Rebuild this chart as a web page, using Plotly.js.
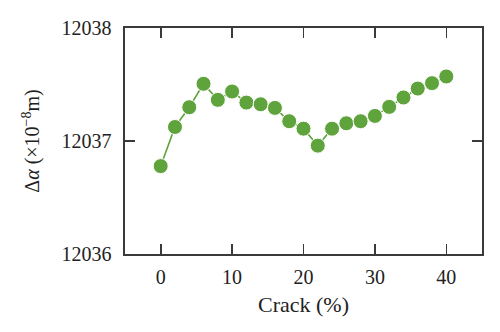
<!DOCTYPE html>
<html>
<head>
<meta charset="utf-8">
<script src="https://cdn.plot.ly/plotly-3.0.1.min.js"></script>
<style>html,body{margin:0;padding:0;background:#fff;}#chart{width:500px;height:332px;}</style>
</head>
<body>
<div id="chart"></div>
<script>
const crack = [0, 2, 4, 6, 8, 10, 12, 14, 16, 18, 20, 22, 24, 26, 28, 30, 32, 34, 36, 38, 40];
const deltaAlpha = [12036.778, 12037.124, 12037.299, 12037.506, 12037.364, 12037.438, 12037.340, 12037.325, 12037.293, 12037.175, 12037.109, 12036.959, 12037.109, 12037.157, 12037.175, 12037.222, 12037.302, 12037.385, 12037.464, 12037.512, 12037.571];
const xTicks = [0, 10, 20, 30, 40];
const yTicks = [12036, 12037, 12038];

const green = '#5fa33c';
const axisColor = '#3a3a3a';
const fam = '"Liberation Serif", "DejaVu Serif", serif';
const font = {family: fam, size: 20, color: '#222'};
const titleFont = {family: fam, size: 22, color: '#222'};

const trace = {
  x: crack, y: deltaAlpha, type: 'scatter', mode: 'lines+markers',
  line: {color: green, width: 1.6},
  marker: {color: green, size: 15, line: {color: '#ffffff', width: 1}},
  hoverinfo: 'skip'
};

const axisCommon = {
  showline: true, linecolor: axisColor, linewidth: 1.6, mirror: 'ticks',
  ticks: 'inside', ticklen: 10, tickwidth: 1.6, tickcolor: axisColor,
  showgrid: false, zeroline: false, tickfont: font
};

const layout = {
  width: 500, height: 332,
  margin: {l: 125, r: 18, t: 28, b: 78},
  paper_bgcolor: '#fff', plot_bgcolor: '#fff',
  showlegend: false,
  font: font,
  xaxis: Object.assign({}, axisCommon, {
    range: [-5, 45], tickvals: xTicks, ticktext: xTicks.map(String),
    ticklabelstandoff: 4,
    title: {text: 'Crack (%)', font: titleFont, standoff: 10}
  }),
  yaxis: Object.assign({}, axisCommon, {
    range: [12036, 12038], tickvals: yTicks, ticktext: yTicks.map(String),
    ticklabelstandoff: 8,
    title: {text: 'Δ<i>α</i> (×10<sup>−8</sup>m)', font: font, standoff: 16}
  })
};

Plotly.newPlot('chart', [trace], layout, {staticPlot: true, displayModeBar: false});
</script>
</body>
</html>
